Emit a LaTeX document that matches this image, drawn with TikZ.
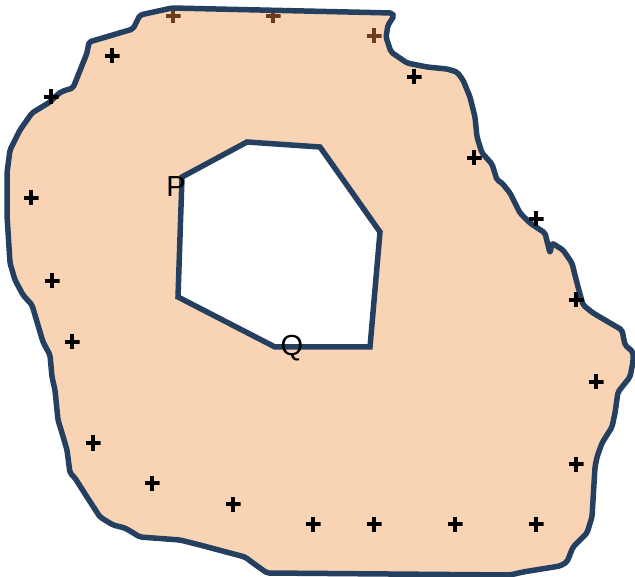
\documentclass[tikz,border=0pt]{standalone}
\usepackage{fontspec}
\setmainfont{Liberation Sans}
\usepackage{tikz}
\definecolor{regionfill}{RGB}{249,212,180}
\definecolor{regionline}{RGB}{36,63,96}
\definecolor{hidden}{RGB}{110,60,28}

\begin{document}
\begin{tikzpicture}[
  x=1pt, y=-1pt,
  region/.style={line width=5.5pt,draw=regionline,line join=round,rounded corners=2pt},
  plusmark/.style={inner sep=0pt,minimum size=15pt,
    path picture={\draw[line width=4pt,#1]
      (path picture bounding box.west) -- (path picture bounding box.east)
      (path picture bounding box.north) -- (path picture bounding box.south);}},
  plusmark/.default=black,
  label/.style={font=\fontsize{29}{34}\selectfont,inner sep=0pt}
]
  \useasboundingbox (0,0) rectangle (635,577);
  % outer boundary and hole
  \def\outerline{(140,15) -- (172,8) -- (392,13) -- (394,16) -- (388,25) -- (386,37)
    -- (391,52) -- (407,63) -- (427,67) -- (447,69) -- (457,72) -- (463,80)
    -- (470,97) -- (475,117) -- (477,137) -- (482,153) -- (492,164) -- (497,180)
    -- (502,183) -- (510,193) -- (520,213) -- (530,223) -- (545,233) -- (550,253)
    -- (552,243) -- (563,250) -- (572,263) -- (577,283) -- (583,305) -- (593,313)
    -- (622,330) -- (625,345) -- (633,352) -- (633,362) -- (630,377) -- (618,392)
    -- (615,413) -- (612,427) -- (602,443) -- (597,457) -- (595,467) -- (592,517)
    -- (587,533) -- (573,547) -- (567,562) -- (560,566) -- (523,572) -- (510,575)
    -- (267,573) -- (253,563) -- (245,557) -- (200,545) -- (180,540) -- (140,537)
    -- (125,528) -- (113,525) -- (100,517) -- (87,497) -- (75,478) -- (70,473)
    -- (67,450) -- (62,433) -- (58,420) -- (55,390) -- (52,377) -- (50,355)
    -- (43,342) -- (32,305) -- (23,295) -- (15,280) -- (10,263) -- (7,215)
    -- (7,173) -- (10,150) -- (20,130) -- (32,113) -- (50,102) -- (58,94)
    -- (63,91) -- (73,88) -- (87,53) -- (89,42) -- (133,29) -- cycle}
  \def\holeline{(182,177) -- (247,142) -- (320,147) -- (380,232) -- (370,347)
    -- (275,347) -- (178,297) -- cycle}
  \fill[regionfill,even odd rule,rounded corners=2pt] \outerline \holeline;

  % marks under the border
  \node[plusmark=hidden] (h1) at (173,16) {};
  \node[plusmark=hidden] (h2) at (273,16) {};
  \node[plusmark=hidden] (h3) at (374,36) {};

  \draw[region] \outerline;
  \draw[region,rounded corners=0pt,line join=miter] \holeline;

  % marks
  \node[plusmark] (m1) at (112,56) {};
  \node[plusmark] (m2) at (51,97) {};
  \node[plusmark] (m3) at (31,198) {};
  \node[plusmark] (m4) at (52,281) {};
  \node[plusmark] (m5) at (72,342) {};
  \node[plusmark] (m6) at (93,443) {};
  \node[plusmark] (m7) at (152,483) {};
  \node[plusmark] (m8) at (233,504) {};
  \node[plusmark] (m9) at (313,524) {};
  \node[plusmark] (m10) at (374,524) {};
  \node[plusmark] (m11) at (455,524) {};
  \node[plusmark] (m12) at (536,524) {};
  \node[plusmark] (m13) at (576,464) {};
  \node[plusmark] (m14) at (596,382) {};
  \node[plusmark] (m15) at (576,300) {};
  \node[plusmark] (m16) at (536,219) {};
  \node[plusmark] (m17) at (474,158) {};
  \node[plusmark] (m18) at (414,77) {};

  \node[label] (p) at (176,187) {P};
  \node[label] (q) at (292,348) {Q};
\end{tikzpicture}
\end{document}
